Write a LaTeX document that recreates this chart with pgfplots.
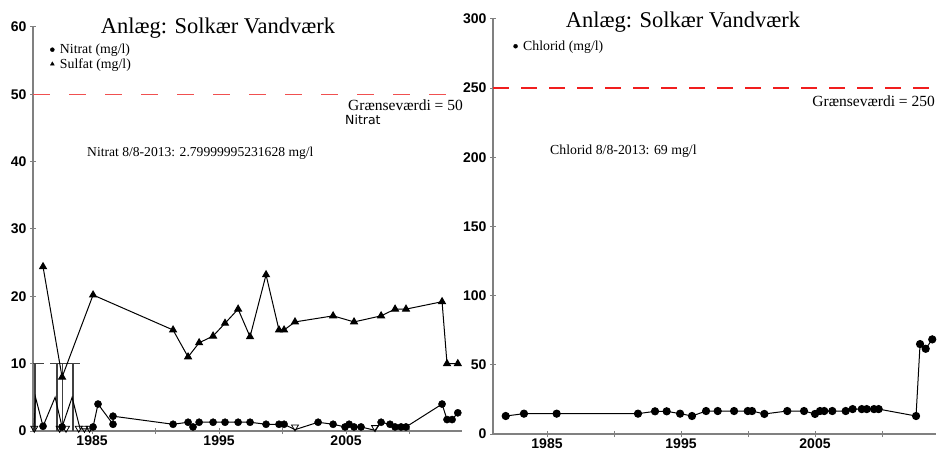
\documentclass[border=0pt]{standalone}
\usepackage{pgfplots}
\pgfplotsset{compat=1.18}
\usepackage{fontspec}
\setmainfont{Liberation Serif}
\newfontfamily\tickfont{Liberation Sans}
\newfontfamily\djv{DejaVu Sans}
\definecolor{limA}{RGB}{240,80,80}
\definecolor{limB}{RGB}{240,30,30}
\definecolor{axgray}{RGB}{128,128,128}

\pgfplotstableread{
x y
1980.42 0.1
1980.55 5
1981.14 0.7
1982.09 5
1982.64 0.6
1983.43 5
1984.06 0.3
1984.84 0.3
1985.08 0.6
1985.47 4.0
1986.65 1.0
1986.65 2.2
1991.38 1.0
1992.56 1.3
1992.95 0.6
1993.43 1.3
1994.53 1.3
1995.47 1.3
1996.50 1.3
1997.44 1.3
1998.70 1.0
1999.72 1.0
2000.12 1.0
2000.98 0.2
2002.80 1.3
2003.98 1.0
2004.92 0.6
2005.24 1.0
2005.63 0.6
2006.18 0.6
2007.28 0.1
2007.76 1.3
2008.46 1.0
2008.86 0.6
2009.33 0.6
2009.72 0.6
2012.56 4.0
2012.95 1.7
2013.35 1.7
2013.80 2.7
}\nitratline

\pgfplotstableread{
x y
1981.14 0.7
1982.64 0.6
1985.08 0.6
1985.47 4.0
1986.65 1.0
1986.65 2.2
1991.38 1.0
1992.56 1.3
1992.95 0.6
1993.43 1.3
1994.53 1.3
1995.47 1.3
1996.50 1.3
1997.44 1.3
1998.70 1.0
1999.72 1.0
2000.12 1.0
2002.80 1.3
2003.98 1.0
2004.92 0.6
2005.24 1.0
2005.63 0.6
2006.18 0.6
2007.76 1.3
2008.46 1.0
2008.86 0.6
2009.33 0.6
2009.72 0.6
2012.56 4.0
2012.95 1.7
2013.35 1.7
2013.80 2.7
}\nitratpts

\pgfplotstableread{
x y
1980.45 0.4
1982.45 0.4
1982.95 0.4
1983.95 0.4
1984.40 0.4
1984.80 0.4
2000.98 0.6
2007.28 0.5
}\detlim

\pgfplotstableread{
x y
1981.14 24.4
1982.64 8.0
1985.08 20.2
1991.38 15.0
1992.56 11.0
1993.43 13.1
1994.53 14.1
1995.47 16.0
1996.50 18.1
1997.44 14.0
1998.70 23.2
1999.72 15.0
2000.12 15.0
2000.98 16.2
2003.98 17.1
2005.63 16.2
2007.76 17.1
2008.86 18.1
2009.72 18.1
2012.56 19.2
2012.95 10.0
2013.80 10.0
}\sulfat

\pgfplotstableread{
x y
1981.92 13.0
1983.28 14.7
1985.72 14.7
1991.79 14.7
1993.06 16.4
1993.93 16.4
1994.93 14.7
1995.82 13.0
1996.87 16.6
1997.74 16.6
1998.96 16.6
1999.98 16.6
2000.30 16.6
2001.22 14.5
2002.93 16.6
2004.18 16.6
2005.00 14.5
2005.37 16.6
2005.69 16.6
2006.29 16.6
2007.29 16.6
2007.81 18.0
2008.49 18.0
2008.86 18.0
2009.40 18.0
2009.75 18.0
2012.54 13.0
2012.84 65.0
2013.26 61.6
2013.75 68.4
}\chlorid

\pgfplotsset{
  myaxis/.style={
    scale only axis, anchor=south west, clip=false,
    axis lines=left,
    axis line style={draw=axgray, line width=1.2bp, -},
    tick style={draw=axgray, line width=1bp},
    tick align=center, major tick length=6bp,
    xtick={1985,1990,...,2010},
    xticklabels={1985,,1995,,2005,},
    ticklabel style={font=\tickfont\bfseries\fontsize{14bp}{14bp}\selectfont},
    xticklabel style={inner sep=1.5bp},
    legend cell align=left,
    legend image code/.code={\draw[#1] plot coordinates {(0bp,0bp)};},
    legend style={draw=none, fill=none, inner sep=0pt,
      font=\fontsize{13.8bp}{15bp}\selectfont,
      nodes={inner sep=1.6bp},
      /tikz/every odd column/.append style={column sep=4bp}},
  },
  datline/.style={black, line width=1bp},
}

\begin{document}
\begin{tikzpicture}
\path[use as bounding box] (0bp,0bp) rectangle (937bp,450bp);

% ---------------- left axis ----------------
\begin{axis}[myaxis, at={(33bp,19bp)}, width=429bp, height=404bp,
  xmin=1980.35, xmax=2014.13, ymin=0, ymax=60,
  ytick={0,10,20,30,40,50,60}, yticklabels={0,10,20,30,40,50,60},
  legend style={at={(0.040,0.962)}, anchor=north west}]
\addlegendimage{only marks, mark=*, mark size=2bp, black}
\addlegendentry{Nitrat (mg/l)}
\addlegendimage{only marks, mark=triangle*, mark size=2.2bp, black}
\addlegendentry{Sulfat (mg/l)}
\addplot[limA, line width=1.6bp, dash pattern=on 17bp off 19bp, forget plot] coordinates {(1980.35,50) (2014.13,50)};
\addplot[black!75, line width=1.1bp, unbounded coords=jump, forget plot] coordinates {
(1980.51,0) (1980.51,10) (nan,nan)
(1980.35,10) (1981.2,10) (nan,nan)
(1982.24,0) (1982.24,10) (nan,nan)
(1982.64,0) (1982.64,10) (nan,nan)
(1983.5,0) (1983.5,10) (nan,nan)
(1981.69,10) (1984.06,10)};
\addplot[datline, no marks, forget plot] table[x=x,y=y] {\nitratline};
\addplot[datline, forget plot, mark=triangle*, mark size=3.9bp] table[x=x,y=y] {\sulfat};
\addplot[only marks, black, mark=*, mark size=3.6bp, forget plot] table[x=x,y=y] {\nitratpts};
\addplot[only marks, black, mark=triangle, mark size=4bp, mark options={rotate=180, line width=0.8bp}, forget plot] table[x=x,y=y] {\detlim};
\end{axis}

% ---------------- right axis ----------------
\begin{axis}[myaxis, at={(493bp,16bp)}, width=443bp, height=415bp,
  xmin=1980.97, xmax=2014.03, ymin=0, ymax=300,
  ytick={0,50,100,150,200,250,300}, yticklabels={0,50,100,150,200,250,300},
  legend style={at={(0.046,0.952)}, anchor=north west}]
\addlegendimage{only marks, mark=*, mark size=2bp, black}
\addlegendentry{Chlorid (mg/l)}
\addplot[limB, line width=1.6bp, dash pattern=on 16bp off 12bp, forget plot] coordinates {(1980.97,250) (2014.03,250)};
\addplot[datline, forget plot, mark=*, mark size=3.6bp] table[x=x,y=y] {\chlorid};
\end{axis}

% ---------------- texts ----------------
\node[anchor=base, inner sep=0pt] at (218bp,416bp) {\fontsize{22.5bp}{24bp}\selectfont Anlæg: Solkær Vandværk};
\node[anchor=base, inner sep=0pt] at (683bp,422bp) {\fontsize{22.5bp}{24bp}\selectfont Anlæg: Solkær Vandværk};
\node[anchor=base east, inner sep=0pt] at (463bp,339bp) {\fontsize{15.5bp}{17bp}\selectfont Grænseværdi = 50};
\node[anchor=base west, inner sep=0pt] at (345bp,325bp) {\djv\fontsize{12.5bp}{14bp}\selectfont Nitrat};
\node[anchor=base west, inner sep=0pt] at (87bp,293bp) {\fontsize{13.6bp}{15bp}\selectfont Nitrat 8/8-2013: 2.79999995231628 mg/l};
\node[anchor=base east, inner sep=0pt] at (935bp,343bp) {\fontsize{15.5bp}{17bp}\selectfont Grænseværdi = 250};
\node[anchor=base west, inner sep=0pt] at (550bp,295bp) {\fontsize{13.8bp}{15bp}\selectfont Chlorid 8/8-2013: 69 mg/l};
\end{tikzpicture}
\end{document}
